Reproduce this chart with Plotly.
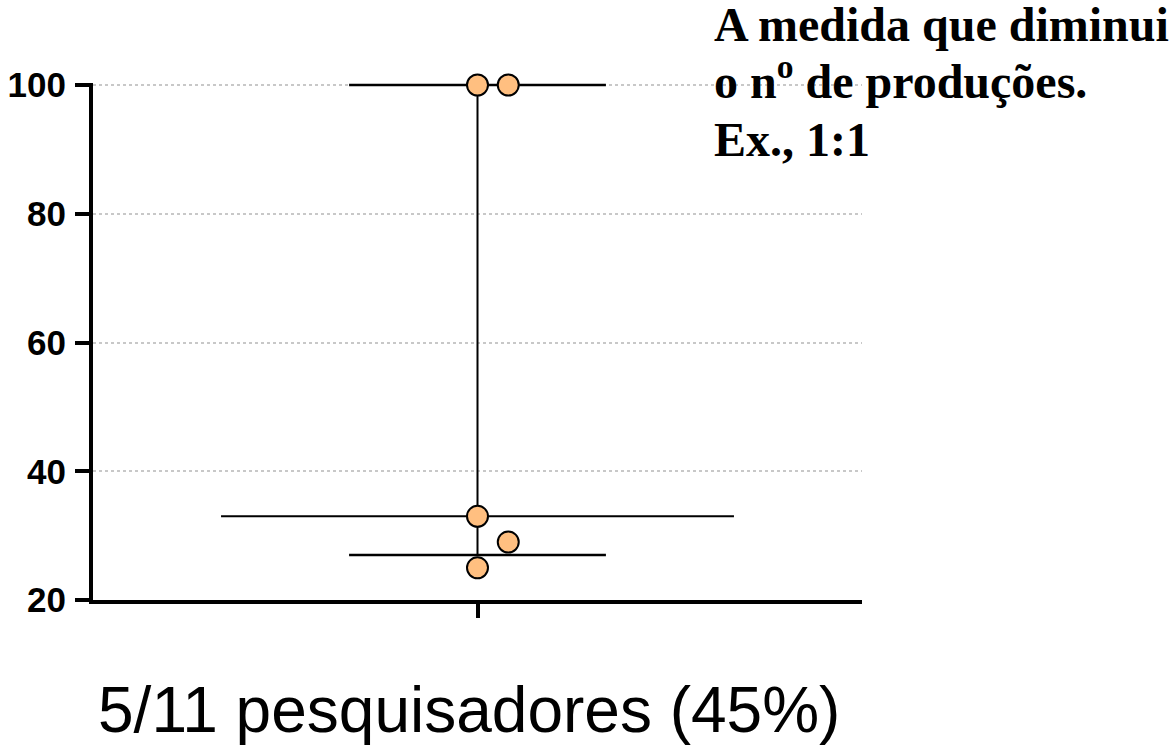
import plotly.graph_objects as go

# Data
values = [100, 100, 33, 29, 25]
dot_offsets = [0.0, 0.08, 0.0, 0.08, 0.0]   # horizontal jitter of the dots
median_value = 33
q1_value = 27
q3_value = 100
y_ticks = [20, 40, 60, 80, 100]
category_label = "5/11 pesquisadores (45%)"
note_lines = ["A medida que diminui", "o n<sup>o</sup> de produções.", "Ex., 1:1"]

fig = go.Figure()

# median line (wide)
fig.add_trace(go.Scatter(x=[-0.667, 0.667], y=[median_value, median_value], mode="lines",
                         line=dict(color="black", width=2), hoverinfo="skip", showlegend=False))
# quartile lines
for q in (q1_value, q3_value):
    fig.add_trace(go.Scatter(x=[-0.334, 0.334], y=[q, q], mode="lines",
                             line=dict(color="black", width=2.6), hoverinfo="skip",
                             showlegend=False))
# vertical connector
fig.add_trace(go.Scatter(x=[0, 0], y=[q1_value, q3_value], mode="lines",
                         line=dict(color="black", width=2), hoverinfo="skip", showlegend=False))
# dots
fig.add_trace(go.Scatter(x=dot_offsets, y=values, mode="markers",
                         marker=dict(size=21, color="#FFBF80", line=dict(color="black", width=2)),
                         showlegend=False, cliponaxis=False))

fig.update_layout(
    width=1169, height=747,
    margin=dict(l=93, r=307, t=83, b=147),
    paper_bgcolor="white", plot_bgcolor="white",
    xaxis=dict(range=[-1, 1], showgrid=False, zeroline=False, showline=True, automargin=False,
               linecolor="black", linewidth=4, tickvals=[0], ticktext=[""],
               ticks="outside", ticklen=14, tickwidth=4, tickcolor="black"),
    yaxis=dict(range=[20, 100.31], tickvals=y_ticks, showgrid=True, gridcolor="#c8c8c8",
               griddash="dot", gridwidth=1.5, zeroline=False, showline=True, automargin=False,
               linecolor="black", linewidth=4, ticks="outside", ticklen=14, tickwidth=4,
               tickcolor="black", ticklabelstandoff=2,
               tickfont=dict(family="Liberation Sans, Arial", size=35, color="black", weight="bold")),
)

fig.add_annotation(x=(468.5 - 93) / 769, y=0, xref="paper", yref="paper", yanchor="top",
                   xanchor="center", yshift=-72,
                   text=category_label, showarrow=False,
                   font=dict(family="Liberation Sans, Arial", size=64, color="black"))

for line_text, shift in zip(note_lines, [30, -27, -85]):
    fig.add_annotation(x=(712 - 93) / 769, y=1, xref="paper", yref="paper",
                       xanchor="left", yanchor="bottom", align="left", yshift=shift,
                       text=line_text, showarrow=False,
                       font=dict(family="Liberation Serif, Times New Roman", size=48,
                                 color="black", weight="bold"))

fig.write_html("out.html", config={"displayModeBar": False},
               post_script="document.body.style.margin='0';")
